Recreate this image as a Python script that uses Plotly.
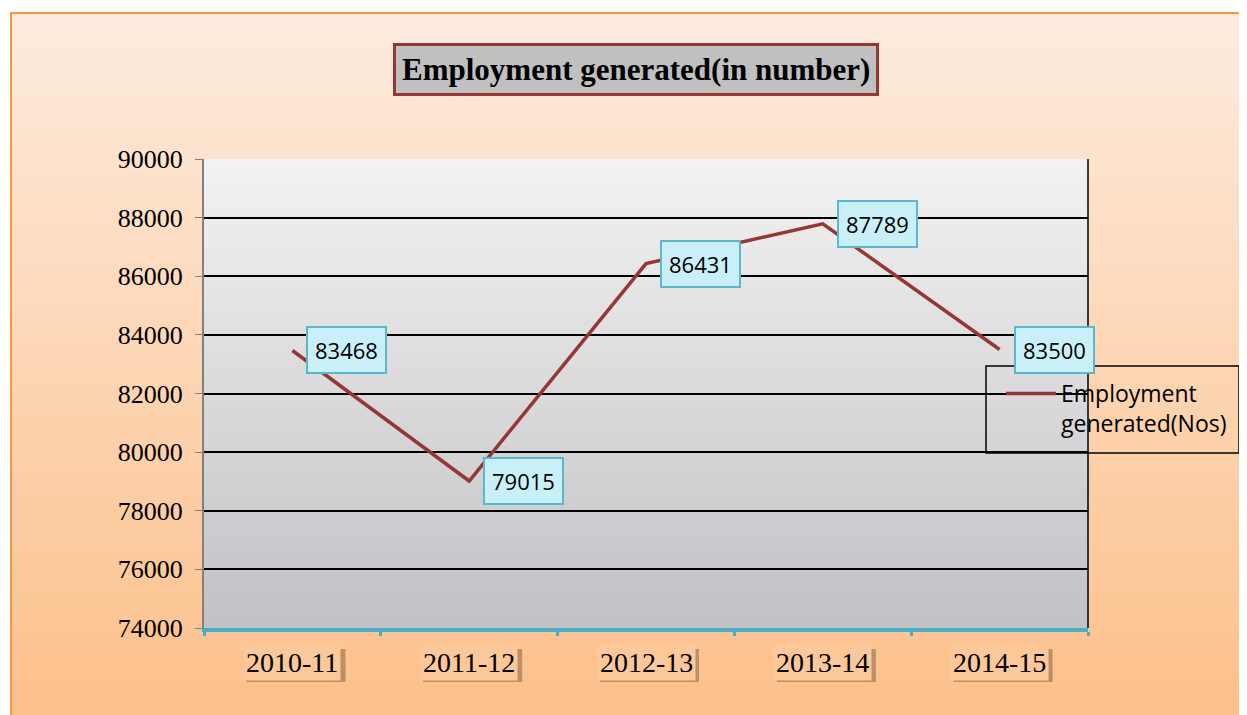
import plotly.graph_objects as go

years = ["2010-11", "2011-12", "2012-13", "2013-14", "2014-15"]
employment = [83468, 79015, 86431, 87789, 83500]
series_name = "Employment<br>generated(Nos)"
title_text = "Employment generated(in number)"

# page geometry (pixels); the browser puts the figure 8px in from the corner
W, H = 1247, 715
OFF = 8
L, T = 204, 159          # plot area top-left on the page
pw, ph = 884, 469        # plot area size


def px_x(p):
    return (p - L) / pw


def px_y(p):
    return (T + ph - p) / ph


def mix(c1, c2, t):
    return "rgb(%d,%d,%d)" % tuple(round(a + (b - a) * t) for a, b in zip(c1, c2))


fig = go.Figure()
fig.add_trace(go.Scatter(x=years, y=employment, mode="lines", name=series_name,
                         line=dict(color="#953735", width=3.5)))

shapes = []
# outer chart area gradient (peach)
n = 70
top_px, bot_px = 13, H + 2
for i in range(n):
    y0 = top_px + (bot_px - top_px) * i / n
    y1 = top_px + (bot_px - top_px) * (i + 1) / n + 0.6
    shapes.append(dict(type="rect", xref="paper", yref="paper", layer="below",
                       x0=px_x(11), x1=px_x(W + 2), y0=px_y(y1), y1=px_y(y0),
                       fillcolor=mix((253, 235, 222), (252, 192, 138), i / (n - 1)),
                       line=dict(width=0)))
shapes.append(dict(type="rect", xref="paper", yref="paper", layer="below",
                   x0=px_x(11), x1=px_x(W + 5), y0=px_y(H + 5), y1=px_y(13),
                   fillcolor="rgba(0,0,0,0)", line=dict(color="#f79646", width=2)))
# plot area gradient (grey)
for i in range(n):
    shapes.append(dict(type="rect", xref="paper", yref="paper", layer="below",
                       x0=0, x1=1, y0=1 - (i + 1) / n - 0.002, y1=1 - i / n,
                       fillcolor=mix((242, 242, 242), (194, 194, 198), i / (n - 1)),
                       line=dict(width=0)))
# right border of plot area
shapes.append(dict(type="line", xref="paper", yref="paper", x0=1, x1=1, y0=0, y1=1,
                   line=dict(color="black", width=1.5)))
# legend frame
shapes.append(dict(type="rect", xref="paper", yref="paper",
                   x0=px_x(986), x1=px_x(1239), y0=px_y(453), y1=px_y(366),
                   line=dict(color="black", width=1.5), fillcolor="rgba(0,0,0,0)"))
# soft shadows behind category labels
for i in range(len(years)):
    shapes.append(dict(type="rect", xref="x", yref="paper", xsizemode="pixel",
                       ysizemode="pixel", xanchor=i, yanchor=0,
                       x0=-46, x1=53, y0=-54, y1=-21, layer="above",
                       fillcolor="rgba(70,45,25,0.35)", line=dict(width=0)))

annotations = []
# title box
annotations.append(dict(text="<b>" + title_text + "</b>", xref="paper", yref="paper",
                        x=px_x(635.5), y=px_y(69.5), xanchor="center", yanchor="middle",
                        showarrow=False, bgcolor="#c0c0c0", bordercolor="#953735",
                        borderwidth=3, borderpad=6,
                        font=dict(family="Liberation Serif", size=31, color="black")))
# data labels
for yr, v in zip(years, employment):
    annotations.append(dict(text=str(v), x=yr, y=v, xref="x", yref="y",
                            xanchor="left", yanchor="middle", xshift=14, showarrow=False,
                            bgcolor="#c9f0f8", bordercolor="#5bb7cc", borderwidth=2,
                            borderpad=7,
                            font=dict(family="Open Sans", size=22, color="black")))
# category labels
for yr in years:
    annotations.append(dict(text=yr, x=yr, y=0, xref="x", yref="paper",
                            xanchor="center", yanchor="middle", yshift=-34,
                            showarrow=False, bgcolor="#fdc899", borderpad=2,
                            font=dict(family="Liberation Serif", size=28, color="black")))

fig.update_layout(
    width=W - OFF, height=H - OFF,
    margin=dict(l=L - OFF, r=W - L - pw, t=T - OFF, b=H - OFF - (T - OFF) - ph),
    paper_bgcolor="white",
    plot_bgcolor="rgba(0,0,0,0)",
    shapes=shapes,
    annotations=annotations,
    showlegend=True,
    legend=dict(x=px_x(1001), y=px_y(372), xanchor="left", yanchor="top",
                bgcolor="rgba(0,0,0,0)", borderwidth=0,
                valign="top", font=dict(family="Open Sans", size=23, color="black"),
                itemwidth=50),
)
fig.update_xaxes(type="category", range=[-0.5, 4.5], showgrid=False,
                 showline=True, linecolor="#4bacc6", linewidth=4,
                 ticks="outside", tickson="boundaries", ticklen=4, tickcolor="#4bacc6",
                 tickwidth=3, showticklabels=False)
fig.update_yaxes(range=[74000, 90000], dtick=2000, tickformat="d", showgrid=True,
                 gridcolor="black", gridwidth=1.5, zeroline=False, showline=True,
                 linecolor="#808080", linewidth=2, ticks="outside", ticklen=7,
                 tickcolor="#808080", ticklabelstandoff=7,
                 tickfont=dict(family="Liberation Serif", size=26, color="black"))

fig.write_html("out.html")
